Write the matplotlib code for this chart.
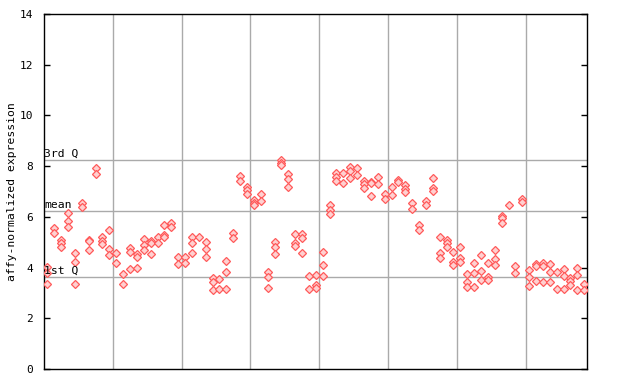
import matplotlib
matplotlib.use('Agg')
import matplotlib.pyplot as plt

# expression values per sample column
samples = [
    [4.03, 3.77, 3.35], [5.55, 5.37], [5.09, 4.95, 4.80], [6.14, 5.85, 5.61],
    [4.56, 4.22, 3.35], [6.56, 6.37], [5.09, 5.05, 4.69], [7.91, 7.69],
    [5.19, 5.06, 4.93], [5.48, 4.72, 4.48], [4.59, 4.17], [3.75, 3.35],
    [4.76, 4.63, 3.93], [4.53, 4.43, 3.98], [5.11, 4.89, 4.69], [5.05, 4.96, 4.53],
    [5.19, 4.98], [5.68, 5.28, 5.19], [5.75, 5.61], [4.43, 4.13],
    [4.40, 4.19], [5.22, 4.95, 4.56], [5.22], [4.99, 4.72, 4.40],
    [3.58, 3.44, 3.10], [3.54, 3.17], [4.25, 3.81, 3.14], [5.35, 5.18],
    [7.61, 7.43], [7.16, 7.06, 6.89], [6.66, 6.56, 6.47], [6.89, 6.61],
    [3.81, 3.64, 3.18], [4.99, 4.82, 4.52], [8.24, 8.11, 8.03], [7.69, 7.48, 7.16],
    [5.31, 4.95, 4.86], [5.31, 5.15, 4.56], [3.67, 3.14], [3.71, 3.31, 3.18],
    [4.60, 4.09, 3.67], [6.45, 6.27, 6.10], [7.74, 7.58, 7.43], [7.72, 7.32],
    [7.95, 7.82, 7.52], [7.91, 7.65], [7.43, 7.28, 7.13], [7.39, 7.35, 6.81],
    [7.58, 7.28], [6.89, 6.69], [7.16, 6.87], [7.45, 7.36],
    [7.24, 7.11, 6.99], [6.53, 6.30], [5.68, 5.48], [6.64, 6.45],
    [7.52, 7.13, 7.03], [5.19, 4.56, 4.37], [5.09, 4.95, 4.82], [4.60, 4.23, 4.10],
    [4.80, 4.37, 4.21], [3.73, 3.44, 3.22], [4.17, 3.77, 3.22], [4.48, 3.85, 3.50],
    [4.17, 3.64, 3.51], [4.68, 4.32, 4.09], [6.05, 5.94, 5.75], [6.47],
    [4.05, 3.80], [6.70, 6.60], [3.89, 3.62, 3.26], [4.13, 4.06, 3.46],
    [4.19, 4.08, 3.42], [4.13, 3.81, 3.42], [3.81, 3.14], [3.93, 3.65, 3.14],
    [3.58, 3.46, 3.30], [3.97, 3.69, 3.10], [3.34, 3.10],
]

q1 = 3.63
mean_val = 6.23
q3 = 8.23
group_size = 10
yticks = [0, 2, 4, 6, 8, 10, 12, 14]

mono = 'DejaVu Sans Mono'

fig = plt.figure(figsize=(6.4, 3.84), dpi=100)
ax = fig.add_axes([44 / 640, 15 / 384, 543 / 640, 355 / 384])

n = len(samples)
xs, ys = [], []
for i, col in enumerate(samples):
    for v in col:
        xs.append(i)
        ys.append(v)
ax.plot(xs, ys, linestyle='none', marker='D', markersize=3.9,
        markerfacecolor='#ffd0d0', markeredgecolor='#ff5a5a',
        markeredgewidth=0.9, zorder=3)

# group separators
for g in range(group_size, n, group_size):
    ax.axvline(g - 0.5, color='#aaaaaa', lw=1, zorder=1)

# quartile / mean lines
for val, lab in [(q3, '3rd Q'), (mean_val, 'mean'), (q1, '1st Q')]:
    ax.axhline(val, color='#aaaaaa', lw=1, zorder=1)
    ax.text(-0.45, val + 0.06, lab, fontsize=8.2, family=mono,
            ha='left', va='bottom', zorder=4)

ax.set_xlim(-0.5, n - 0.6)
ax.set_ylim(0, 14)
ax.set_xticks([])
ax.set_yticks(yticks)
ax.set_yticklabels([str(t) for t in yticks], family=mono, fontsize=8)
ax.tick_params(axis='y', direction='in', length=4, left=True, right=True,
               pad=8, width=1)
fig.text(12 / 640, 0.5, 'affy-normalized expression', family=mono,
         fontsize=8.2, rotation=90, ha='center', va='center')
for s in ax.spines.values():
    s.set_linewidth(1)

fig.savefig('out.png', dpi=100)
